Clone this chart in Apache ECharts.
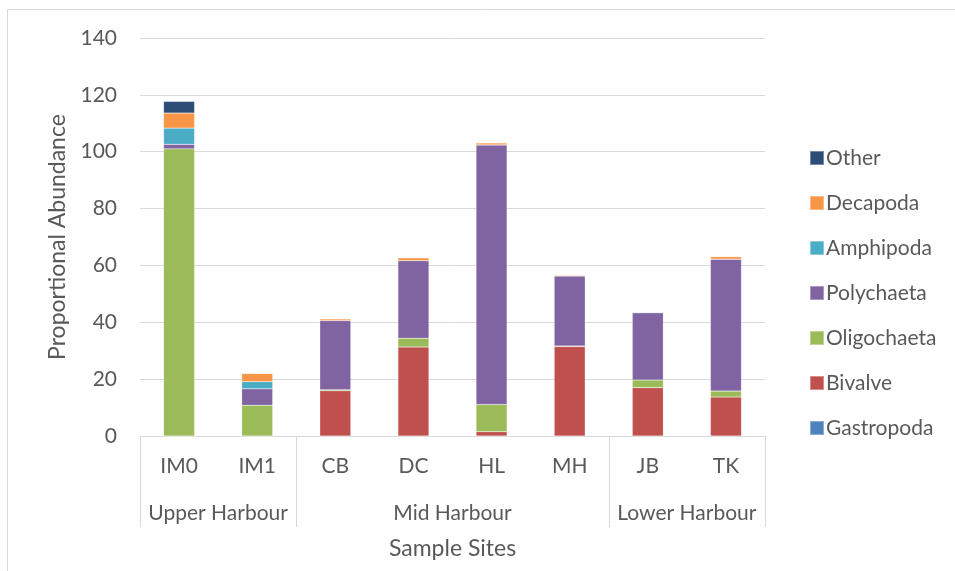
<!DOCTYPE html>
<html>
<head>
<meta charset="utf-8">
<script src="https://cdn.jsdelivr.net/npm/echarts@6/dist/echarts.min.js"></script>
<style>
  html, body { margin: 0; padding: 0; background: #fff; }
  #chart { width: 955px; height: 571px; }
</style>
</head>
<body>
<div id="chart"></div>
<script>
// sample sites and harbour groups
const sites = ['IM0', 'IM1', 'CB', 'DC', 'HL', 'MH', 'JB', 'TK']
const groupSlots = ['', '', 'Upper Harbour', '', '', '', '', '', 'Mid Harbour', '', '', '', '', '', 'Lower Harbour', '', '']
const groupEdges = [0, 4, 12, 16]

// taxa values per site (stack order bottom -> top)
const gastropoda = [0, 0, 0, 0, 0, 0, 0, 0]
const bivalve = [0, 0, 15.9, 31.3, 1.5, 31.5, 17.0, 13.7]
const oligochaeta = [101.0, 10.8, 0.4, 3.1, 9.6, 0.2, 2.7, 2.1]
const polychaeta = [1.6, 5.8, 24.3, 27.3, 91.3, 24.6, 23.7, 46.4]
const amphipoda = [5.7, 2.5, 0, 0, 0, 0, 0, 0]
const decapoda = [5.3, 2.9, 0.6, 1.0, 0.7, 0.3, 0, 0.9]
const other = [4.1, 0, 0, 0, 0, 0, 0, 0]

const yTicks = { min: 0, max: 140, interval: 20 }

const seriesDefs = [
    { name: 'Gastropoda', data: gastropoda, color: '#4F81BD' },
    { name: 'Bivalve', data: bivalve, color: '#C0504D' },
    { name: 'Oligochaeta', data: oligochaeta, color: '#9BBB59' },
    { name: 'Polychaeta', data: polychaeta, color: '#8064A2' },
    { name: 'Amphipoda', data: amphipoda, color: '#4BACC6' },
    { name: 'Decapoda', data: decapoda, color: '#F79646' },
    { name: 'Other', data: other, color: '#2C4D75' }
]

const font = 'Lato, "Open Sans", sans-serif'
const textColor = '#595959'

const chart = echarts.init(document.getElementById('chart'))
chart.setOption({
    animation: false,
    textStyle: { fontFamily: font },
    graphic: [{
        type: 'rect',
        shape: { x: 7.5, y: 9.5, width: 1000, height: 1000 },
        style: { fill: 'none', stroke: '#d9d9d9', lineWidth: 1 },
        silent: true
    }],
    legend: {
        orient: 'vertical',
        left: 804,
        top: 142,
        itemWidth: 14,
        itemHeight: 14,
        itemGap: 23,
        icon: 'rect',
        data: seriesDefs.map(s => s.name).reverse(),
        textStyle: { fontSize: 21, lineHeight: 22, color: textColor, fontFamily: font, padding: [0, 0, 0, -3] }
    },
    grid: { left: 140, right: 190, top: 38, bottom: 135 },
    xAxis: [
        {
            type: 'category',
            data: sites,
            position: 'bottom',
            axisLine: { lineStyle: { color: '#d9d9d9', width: 1 } },
            axisTick: { show: false },
            axisLabel: { fontSize: 21, color: textColor, margin: 20, fontFamily: font },
            name: 'Sample Sites',
            nameLocation: 'middle',
            nameGap: 101,
            nameTextStyle: { fontSize: 23, color: textColor, fontFamily: font }
        },
        {
            type: 'category',
            data: groupSlots,
            position: 'bottom',
            boundaryGap: false,
            axisLine: { show: false },
            axisTick: {
                show: true,
                length: 91,
                interval: (i) => groupEdges.includes(i),
                lineStyle: { color: '#d9d9d9' }
            },
            axisLabel: {
                interval: 0,
                fontSize: 21,
                color: textColor,
                margin: 67,
                fontFamily: font
            }
        }
    ],
    yAxis: {
        type: 'value',
        min: yTicks.min,
        max: yTicks.max,
        interval: yTicks.interval,
        axisLine: { show: false },
        axisTick: { show: false },
        axisLabel: { fontSize: 21, color: textColor, margin: 23, fontFamily: font },
        splitLine: { lineStyle: { color: '#d9d9d9', width: 1 } },
        name: 'Proportional Abundance',
        nameLocation: 'middle',
        nameGap: 71,
        nameTextStyle: { fontSize: 23, color: textColor, fontFamily: font }
    },
    series: seriesDefs.map(s => ({
        name: s.name,
        type: 'bar',
        stack: 'total',
        xAxisIndex: 0,
        barWidth: 31,
        data: s.data,
        itemStyle: { color: s.color, borderColor: 'rgba(255,255,255,0.35)', borderWidth: 0.5 }
    }))
})
</script>
</body>
</html>
